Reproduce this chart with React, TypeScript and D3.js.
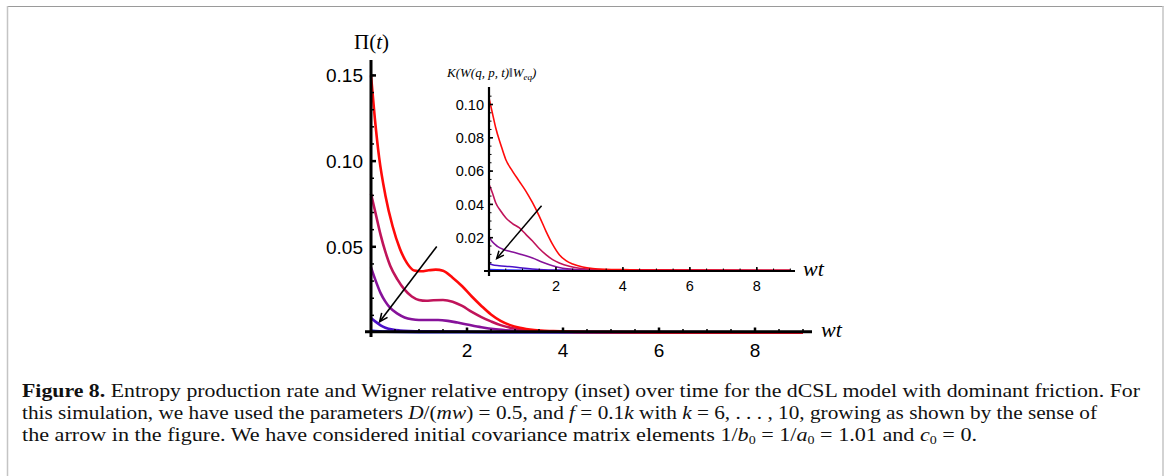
import React from "react";
import * as d3 from "d3";

// ---------- data ----------
const kValues = [6, 7, 8, 9, 10];
const seriesColors = ["#2a2aff", "#4a10c8", "#86129a", "#c0145a", "#ff0a0a"];

// main panel: entropy production rate Pi(t)
const mainT10 = [0, 0.08, 0.17, 0.3, 0.45, 0.6, 0.75, 0.9, 1.05, 1.2, 1.35, 1.5, 1.7, 1.9, 2.1, 2.3, 2.5, 2.7, 2.9, 3.1, 3.4, 3.8, 4.5, 6, 9];
const mainV10 = [0.15, 0.125, 0.102, 0.08, 0.062, 0.049, 0.0405, 0.0362, 0.0357, 0.0363, 0.0367, 0.036, 0.032, 0.027, 0.021, 0.0155, 0.0105, 0.0068, 0.0043, 0.0028, 0.0015, 0.0008, 0.0003, 0.0001, 0.0];
const mainT9 = [0, 0.1, 0.2, 0.3, 0.4, 0.55, 0.7, 0.85, 1.0, 1.15, 1.3, 1.5, 1.7, 1.9, 2.1, 2.3, 2.5, 2.7, 2.9, 3.2, 3.6, 4.2, 9];
const mainV9 = [0.081, 0.069, 0.057, 0.047, 0.039, 0.031, 0.025, 0.021, 0.019, 0.0185, 0.0188, 0.019, 0.018, 0.0155, 0.012, 0.009, 0.0065, 0.0043, 0.0028, 0.0015, 0.0007, 0.0003, 0.0];
const mainT8 = [0, 0.1, 0.2, 0.3, 0.4, 0.55, 0.7, 0.85, 1.0, 1.2, 1.4, 1.6, 1.8, 2.0, 2.3, 2.6, 3.0, 3.5, 9];
const mainV8 = [0.038, 0.03, 0.023, 0.018, 0.0143, 0.011, 0.0088, 0.0077, 0.0073, 0.0073, 0.0073, 0.0068, 0.0058, 0.0047, 0.0031, 0.0019, 0.001, 0.0004, 0.0];
const mainT7 = [0, 0.1, 0.2, 0.3, 0.45, 0.6, 0.8, 1.2, 1.8, 2.5, 9];
const mainV7 = [0.0085, 0.0062, 0.0042, 0.0028, 0.0017, 0.0012, 0.0009, 0.0007, 0.0005, 0.0003, 0.0];
const mainT6 = [0, 0.3, 1, 9];
const mainV6 = [0.0012, 0.0005, 0.0002, 0.0];

// inset: Wigner relative entropy K(W || W_eq)
const insetT10 = [0, 0.1, 0.2, 0.35, 0.5, 0.7, 0.9, 1.1, 1.3, 1.5, 1.7, 1.9, 2.1, 2.3, 2.5, 2.8, 3.1, 3.5, 4, 5, 9];
const insetV10 = [0.104, 0.095, 0.086, 0.076, 0.067, 0.06, 0.054, 0.048, 0.041, 0.033, 0.024, 0.016, 0.0098, 0.0062, 0.0042, 0.0024, 0.0015, 0.001, 0.0008, 0.0005, 0.0004];
const insetT9 = [0, 0.1, 0.2, 0.35, 0.5, 0.7, 0.9, 1.1, 1.3, 1.5, 1.7, 1.9, 2.1, 2.4, 2.7, 3.0, 3.5, 4, 9];
const insetV9 = [0.052, 0.047, 0.041, 0.036, 0.032, 0.0285, 0.026, 0.022, 0.018, 0.0135, 0.0098, 0.0068, 0.0048, 0.0028, 0.0017, 0.0011, 0.0007, 0.0005, 0.0003];
const insetT8 = [0, 0.1, 0.25, 0.45, 0.7, 1.0, 1.3, 1.6, 1.9, 2.2, 2.6, 3, 9];
const insetV8 = [0.0205, 0.0175, 0.0148, 0.0128, 0.0114, 0.0097, 0.0078, 0.0053, 0.0032, 0.0017, 0.0009, 0.0005, 0.0003];
const insetT7 = [0, 0.1, 0.3, 0.6, 1.0, 1.5, 2, 9];
const insetV7 = [0.0045, 0.0038, 0.0032, 0.0027, 0.0018, 0.0009, 0.0005, 0.0002];
const insetT6 = [0, 0.5, 1, 2, 9];
const insetV6 = [0.0008, 0.0006, 0.0004, 0.0002, 0.0001];

const mainYTicks = [0.05, 0.1, 0.15];
const mainYTickLabels = ["0.05", "0.10", "0.15"];
const insetYTicks = [0.02, 0.04, 0.06, 0.08, 0.1];
const insetYTickLabels = ["0.02", "0.04", "0.06", "0.08", "0.10"];
const xTicks = [2, 4, 6, 8];

const mainSeries = [
  { t: mainT6, v: mainV6 },
  { t: mainT7, v: mainV7 },
  { t: mainT8, v: mainV8 },
  { t: mainT9, v: mainV9 },
  { t: mainT10, v: mainV10 },
];
const insetSeries = [
  { t: insetT6, v: insetV6 },
  { t: insetT7, v: insetV7 },
  { t: insetT8, v: insetV8 },
  { t: insetT9, v: insetV9 },
  { t: insetT10, v: insetV10 },
];

// ---------- component ----------
export default function App() {
  const W = 1170;
  const H = 476;

  // main scales
  const mx = d3.scaleLinear().domain([0, 9.2]).range([371, 812.6]);
  const my = d3.scaleLinear().domain([0, 0.159]).range([332.5, 60]);
  // inset scales
  const ix = d3.scaleLinear().domain([0, 9.2]).range([489, 797]);
  const iy = d3.scaleLinear().domain([0, 0.1105]).range([271, 87]);

  const mainLine = (t: number[], v: number[]) =>
    d3
      .line<number>()
      .x((_, i) => mx(t[i]))
      .y((_, i) => my(v[i]))
      .curve(d3.curveMonotoneX)(v) || "";
  const insetLine = (t: number[], v: number[]) =>
    d3
      .line<number>()
      .x((_, i) => ix(t[i]))
      .y((_, i) => iy(v[i]))
      .curve(d3.curveMonotoneX)(v) || "";

  const mainYMinor = d3.range(1, 16).map((i) => i * 0.01);
  const mainXMinor = d3.range(1, 19).map((i) => i * 0.5);
  const insetYMinor = d3.range(1, 22).map((i) => i * 0.005);
  const insetXMinor = d3.range(1, 19).map((i) => i * 0.5);

  const sans = "'Liberation Sans', Arial, sans-serif";
  const serif = "'Liberation Serif', 'Times New Roman', serif";

  // arrows (in data coordinates)
  const mainArrow = { x1: 1.37, y1: 0.0502, x2: 0.18, y2: 0.0063 };
  const insetArrow = { x1: 1.57, y1: 0.0392, x2: 0.23, y2: 0.0075 };

  const arrowHead = (x1: number, y1: number, x2: number, y2: number, size: number) => {
    const ang = Math.atan2(y2 - y1, x2 - x1);
    const a1 = ang + Math.PI - 0.42;
    const a2 = ang + Math.PI + 0.42;
    return `M${x2 + size * Math.cos(a1)},${y2 + size * Math.sin(a1)}L${x2},${y2}L${x2 + size * Math.cos(a2)},${y2 + size * Math.sin(a2)}`;
  };

  const mA = { x1: mx(mainArrow.x1), y1: my(mainArrow.y1), x2: mx(mainArrow.x2), y2: my(mainArrow.y2) };
  const iA = { x1: ix(insetArrow.x1), y1: iy(insetArrow.y1), x2: ix(insetArrow.x2), y2: iy(insetArrow.y2) };

  return (
    <svg
      width={W}
      height={H}
      style={{ position: "absolute", left: 0, top: 0, background: "#fff" }}
      xmlns="http://www.w3.org/2000/svg"
    >
      <rect x={0} y={0} width={W} height={H} fill="#fff" />
      {/* frame */}
      <line x1={7} y1={6.5} x2={1163.5} y2={6.5} stroke="#9a9a9a" strokeWidth={1.2} />
      <line x1={7.5} y1={6} x2={7.5} y2={H} stroke="#c4c4c4" strokeWidth={1.5} />
      <line x1={1163} y1={6} x2={1163} y2={H} stroke="#c4c4c4" strokeWidth={1.5} />

      {/* ---------- main panel ---------- */}
      <g>
        {mainSeries.map((s, i) => (
          <path key={kValues[i]} d={mainLine(s.t, s.v)} fill="none" stroke={seriesColors[i]} strokeWidth={2.6} strokeLinejoin="round" />
        ))}
        {/* axes */}
        <line x1={365} y1={my(0) - 0.8} x2={812} y2={my(0) - 0.8} stroke="#000" strokeWidth={3} />
        <line x1={mx(0)} y1={60} x2={mx(0)} y2={337} stroke="#000" strokeWidth={3} />
        {mainYMinor.map((v) => (
          <line key={"my" + v} x1={mx(0)} x2={mx(0) + 3} y1={my(v)} y2={my(v)} stroke="#000" strokeWidth={1.5} />
        ))}
        {mainYTicks.map((v) => (
          <line key={"mY" + v} x1={mx(0)} x2={mx(0) + 5} y1={my(v)} y2={my(v)} stroke="#000" strokeWidth={2.5} />
        ))}
        {mainXMinor.map((v) => (
          <line key={"mx" + v} x1={mx(v)} x2={mx(v)} y1={my(0)} y2={my(0) - 3.5} stroke="#000" strokeWidth={1.5} />
        ))}
        {xTicks.map((v) => (
          <line key={"mX" + v} x1={mx(v)} x2={mx(v)} y1={my(0)} y2={my(0) - 5} stroke="#000" strokeWidth={2.5} />
        ))}
        {mainYTicks.map((v, i) => (
          <text key={"mYl" + v} x={mx(0) - 8} y={my(v)} dy="0.36em" textAnchor="end" fontFamily={sans} fontSize={19} fill="#000">
            {mainYTickLabels[i]}
          </text>
        ))}
        {xTicks.map((v) => (
          <text key={"mXl" + v} x={mx(v)} y={357} textAnchor="middle" fontFamily={sans} fontSize={19} fill="#000">
            {v}
          </text>
        ))}
        <text x={354} y={49} fontFamily={serif} fontSize={21} fill="#000">
          Π(<tspan fontStyle="italic">t</tspan>)
        </text>
        <text x={821} y={337} fontFamily={serif} fontStyle="italic" fontSize={22} fill="#000">
          wt
        </text>
        {/* arrow */}
        <line x1={mA.x1} y1={mA.y1} x2={mA.x2} y2={mA.y2} stroke="#000" strokeWidth={1.6} />
        <path d={arrowHead(mA.x1, mA.y1, mA.x2, mA.y2, 9)} fill="none" stroke="#000" strokeWidth={1.6} />
      </g>

      {/* ---------- inset ---------- */}
      <g>
        {insetSeries.map((s, i) => (
          <path key={"i" + kValues[i]} d={insetLine(s.t, s.v)} fill="none" stroke={seriesColors[i]} strokeWidth={1.6} strokeLinejoin="round" />
        ))}
        <line x1={484} y1={iy(0)} x2={795} y2={iy(0)} stroke="#000" strokeWidth={2.2} />
        <line x1={ix(0)} y1={87} x2={ix(0)} y2={276} stroke="#000" strokeWidth={2.2} />
        {insetYMinor.map((v) => (
          <line key={"iy" + v} x1={ix(0)} x2={ix(0) + 2.5} y1={iy(v)} y2={iy(v)} stroke="#000" strokeWidth={1} />
        ))}
        {insetYTicks.map((v) => (
          <line key={"iY" + v} x1={ix(0)} x2={ix(0) + 4} y1={iy(v)} y2={iy(v)} stroke="#000" strokeWidth={1.6} />
        ))}
        {insetXMinor.map((v) => (
          <line key={"ix" + v} x1={ix(v)} x2={ix(v)} y1={iy(0)} y2={iy(0) - 2.5} stroke="#000" strokeWidth={1} />
        ))}
        {xTicks.map((v) => (
          <line key={"iX" + v} x1={ix(v)} x2={ix(v)} y1={iy(0)} y2={iy(0) - 4} stroke="#000" strokeWidth={1.6} />
        ))}
        {insetYTicks.map((v, i) => (
          <text key={"iYl" + v} x={ix(0) - 5} y={iy(v)} dy="0.36em" textAnchor="end" fontFamily={sans} fontSize={14.5} fill="#000">
            {insetYTickLabels[i]}
          </text>
        ))}
        {xTicks.map((v) => (
          <text key={"iXl" + v} x={ix(v)} y={291} textAnchor="middle" fontFamily={sans} fontSize={14.5} fill="#000">
            {v}
          </text>
        ))}
        <text x={447} y={77} fontFamily={serif} fontStyle="italic" fontSize={13} fill="#000">
          K(W(q, p, t)‖W<tspan fontSize={9} dy={3}>eq</tspan>
          <tspan dy={-3}>)</tspan>
        </text>
        <text x={803} y={276} fontFamily={serif} fontStyle="italic" fontSize={22} fill="#000">
          wt
        </text>
        <line x1={iA.x1} y1={iA.y1} x2={iA.x2} y2={iA.y2} stroke="#000" strokeWidth={1.5} />
        <path d={arrowHead(iA.x1, iA.y1, iA.x2, iA.y2, 8)} fill="none" stroke="#000" strokeWidth={1.5} />
      </g>

      {/* ---------- caption ---------- */}
      <g fontFamily={serif} fontSize={19} fill="#111">
        <text x={22} y={397} textLength={1118} lengthAdjust="spacingAndGlyphs">
          <tspan fontWeight="bold">Figure 8.</tspan> Entropy production rate and Wigner relative entropy (inset) over time for the dCSL model with dominant friction. For
        </text>
        <text x={22} y={419} textLength={1075} lengthAdjust="spacingAndGlyphs">
          this simulation, we have used the parameters <tspan fontStyle="italic">D</tspan>/(<tspan fontStyle="italic">mw</tspan>) = 0.5, and{" "}
          <tspan fontStyle="italic">f</tspan> = 0.1<tspan fontStyle="italic">k</tspan> with <tspan fontStyle="italic">k</tspan> = 6, . . . , 10, growing as shown by the sense of
        </text>
        <text x={22} y={441} textLength={955} lengthAdjust="spacingAndGlyphs">
          the arrow in the figure. We have considered initial covariance matrix elements 1/<tspan fontStyle="italic">b</tspan>
          <tspan fontSize={12} dy={3}>0</tspan>
          <tspan dy={-3}> = 1/</tspan>
          <tspan fontStyle="italic">a</tspan>
          <tspan fontSize={12} dy={3}>0</tspan>
          <tspan dy={-3}> = 1.01 and </tspan>
          <tspan fontStyle="italic">c</tspan>
          <tspan fontSize={12} dy={3}>0</tspan>
          <tspan dy={-3}> = 0.</tspan>
        </text>
      </g>
    </svg>
  );
}
